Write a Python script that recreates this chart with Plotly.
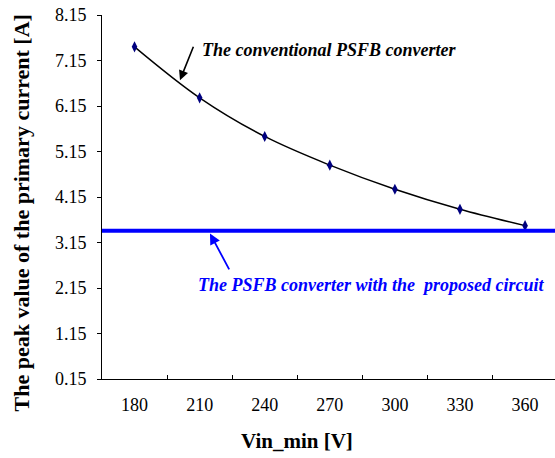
import plotly.graph_objects as go

# ---- data ----
vin_min = ["180", "210", "240", "270", "300", "330", "360"]
peak_conventional = [7.45, 6.33, 5.48, 4.85, 4.32, 3.88, 3.52]
peak_proposed = 3.41
y_ticks = [0.15, 1.15, 2.15, 3.15, 4.15, 5.15, 6.15, 7.15, 8.15]

FONT = "Liberation Serif"

fig = go.Figure()
fig.add_trace(go.Scatter(
    x=vin_min, y=peak_conventional, mode="lines+markers",
    line=dict(color="black", width=1.4, shape="spline", smoothing=1),
    marker=dict(symbol="diamond-tall", size=8, color="#00007f"),
    showlegend=False, cliponaxis=False,
))

fig.add_shape(type="line", xref="paper", x0=0, x1=1, yref="y",
              y0=peak_proposed, y1=peak_proposed,
              line=dict(color="#0000ff", width=4))

fig.update_layout(
    width=555, height=458,
    margin=dict(l=102, r=0, t=15, b=79),
    paper_bgcolor="white", plot_bgcolor="white",
    font=dict(family=FONT, color="black"),
    xaxis=dict(
        type="category", range=[-0.5, 6.46], tickson="boundaries",
        ticks="inside", ticklen=4, tickcolor="black", tickwidth=1,
        showline=True, linecolor="black", linewidth=1, showgrid=False,
        zeroline=False, tickfont=dict(family=FONT, size=18, color="black"),
        ticklabelstandoff=9,
    ),
    yaxis=dict(
        range=[0.15, 8.15], tickvals=y_ticks, tickformat=".2f",
        ticks="outside", ticklen=4, tickcolor="black", tickwidth=1,
        showline=True, linecolor="black", linewidth=1, showgrid=False,
        zeroline=False, tickfont=dict(family=FONT, size=18, color="black"),
        ticklabelstandoff=7,
    ),
    annotations=[
        dict(text="<b>The peak value of the primary current [A]</b>",
             xref="paper", yref="paper", x=(21 - 102) / 453, y=(379 - 213.5) / 364,
             xanchor="center", yanchor="middle", textangle=-90, showarrow=False,
             font=dict(family=FONT, size=22, color="black")),
        dict(text="<b>Vin_min [V]</b>",
             xref="paper", yref="paper", x=(297 - 102) / 453, y=(379 - 441) / 364,
             xanchor="center", yanchor="middle", showarrow=False,
             font=dict(family=FONT, size=21, color="black")),
        dict(text="<b><i>The conventional PSFB converter</i></b>",
             xref="x", yref="y", x=1.0, y=7.375, xanchor="left", yanchor="middle",
             showarrow=False, font=dict(family=FONT, size=18, color="black")),
        dict(text="", xref="x", yref="y", x=0.698, y=6.717, ax=14, ay=-35,
             showarrow=True, arrowhead=2, arrowsize=1.2, arrowwidth=1.6,
             arrowcolor="black"),
        dict(text="<b><i>The PSFB converter with the\u00a0 proposed circuit</i></b>",
             xref="x", yref="y", x=0.95, y=2.22, xanchor="left", yanchor="middle",
             showarrow=False, font=dict(family=FONT, size=18, color="#0000ff")),
        dict(text="", xref="x", yref="y", x=1.159, y=3.35, ax=20, ay=37.5,
             showarrow=True, arrowhead=2, arrowsize=1.2, arrowwidth=1.8,
             arrowcolor="#0000ff"),
    ],
)

fig.write_html("out.html")
